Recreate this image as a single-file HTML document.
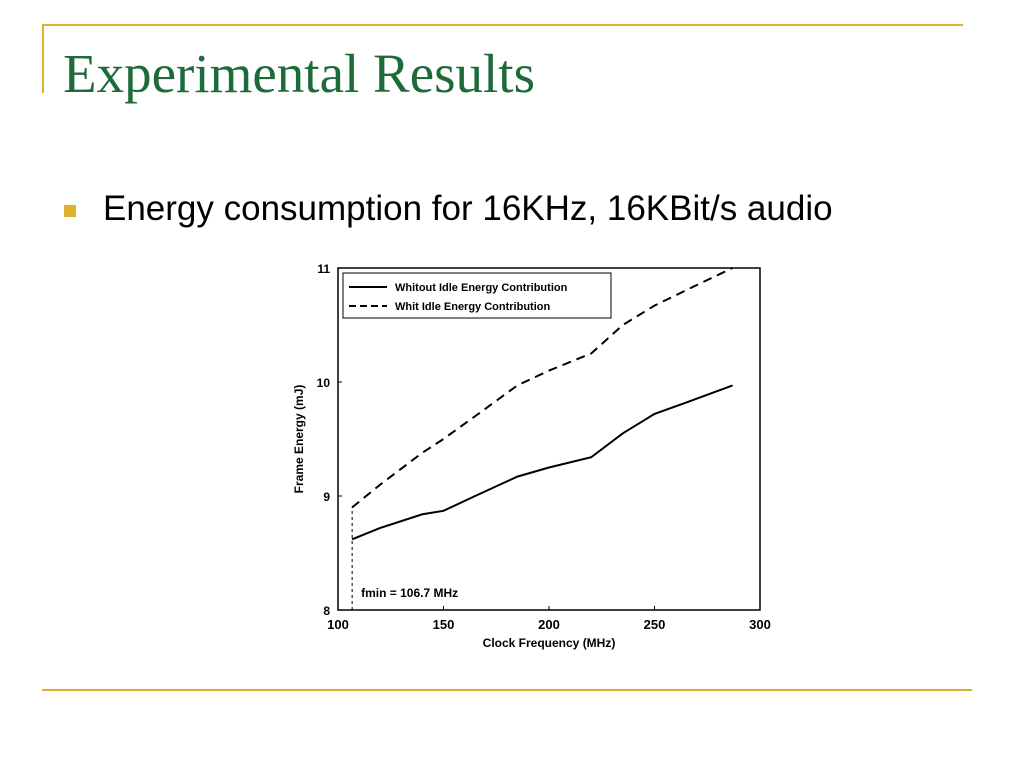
<!DOCTYPE html>
<html><head><meta charset="utf-8"><style>
body{margin:0;width:1024px;height:768px;background:#fff;position:relative;overflow:hidden;font-family:"Liberation Sans",sans-serif}
.abs{position:absolute}
</style></head><body>
<div class="abs" style="left:42px;top:24px;width:921px;height:2px;background:#e0b030"></div>
<div class="abs" style="left:42px;top:24px;width:2px;height:69px;background:#e0b030"></div>
<div class="abs" style="left:63px;top:46px;font-family:'Liberation Serif',serif;font-size:55px;line-height:1;color:#1e6b3a;white-space:nowrap">Experimental Results</div>
<div class="abs" style="left:64px;top:205px;width:12px;height:12px;background:#e0b030"></div>
<div class="abs" style="left:103px;top:191px;font-size:35px;line-height:1;color:#000;white-space:nowrap">Energy consumption for 16KHz, 16KBit/s audio</div>
<div class="abs" style="left:42px;top:689px;width:930px;height:2px;background:#e0b030"></div>
<svg class="abs" style="left:0;top:0" width="1024" height="768">
<g id="chart"></g>
</svg>
<script>
const xTicks=[100,150,200,250,300];
const yTicks=[8,9,10,11];
const freq=[106.7,120,140,150,165,185,200,220,235,250,265,287];
const withoutIdle=[8.62,8.72,8.84,8.87,9.0,9.17,9.25,9.34,9.55,9.72,9.82,9.97];
const freqIdle=[106.7,120,140,150,165,185,200,220,235,250,270,287];
const withIdle=[8.9,9.1,9.38,9.5,9.7,9.97,10.1,10.25,10.5,10.67,10.85,11.0];
const fmin=106.7;
const L=338,R=760,T=268,B=610;
const X=v=>L+(v-100)/200*(R-L);
const Y=v=>B-(v-8)/3*(B-T);
const NS='http://www.w3.org/2000/svg';
const g=document.getElementById('chart');
function mk(t,a){const e=document.createElementNS(NS,t);for(const k in a)e.setAttribute(k,a[k]);g.appendChild(e);return e;}
let e=mk('rect',{x:L,y:T,width:R-L,height:B-T,fill:'none',stroke:'#000','stroke-width':1.5});


xTicks.forEach(v=>{
 let t=mk('line',{x1:X(v),x2:X(v),y1:B,y2:B-4,stroke:'#000'});
 
 
 let l=mk('text',{x:X(v),y:B+19,'text-anchor':'middle','font-size':13,'font-weight':'bold'});l.textContent=v;
 
 
});
yTicks.forEach(v=>{
 let t=mk('line',{x1:L,x2:L+4,y1:Y(v),y2:Y(v),stroke:'#000'});
 
 
 let l=mk('text',{x:L-8,y:Y(v)+5,'text-anchor':'end','font-size':12,'font-weight':'bold'});l.textContent=v;
 
 
});
let xt=mk('text',{x:(L+R)/2,y:B+37,'text-anchor':'middle','font-size':12,'font-weight':'bold'});xt.textContent='Clock Frequency (MHz)';


let yt=mk('text',{x:0,y:0,'text-anchor':'middle','font-size':12,'font-weight':'bold',transform:`translate(303,${(T+B)/2}) rotate(-90)`});yt.textContent='Frame Energy (mJ)';


let fl=mk('line',{x1:X(fmin),x2:X(fmin),y1:B,y2:Y(withIdle[0]),stroke:'#000','stroke-dasharray':'3,3'});


let ft=mk('text',{x:X(fmin)+9,y:B-13,'font-size':12,'font-weight':'bold'});ft.textContent='fmin = 106.7 MHz';


let p1=mk('polyline',{points:freq.map((f,i)=>X(f)+','+Y(withoutIdle[i])).join(' '),fill:'none',stroke:'#000','stroke-width':2});


let p2=mk('polyline',{points:freqIdle.map((f,i)=>X(f)+','+Y(withIdle[i])).join(' '),fill:'none',stroke:'#000','stroke-width':2,'stroke-dasharray':'9,6'});


let lg=mk('rect',{x:343,y:273,width:268,height:45,fill:'#fff',stroke:'#000'});


let l1=mk('line',{x1:349,x2:387,y1:287,y2:287,stroke:'#000','stroke-width':2});


let t1=mk('text',{x:395,y:291,'font-size':11,'font-weight':'bold'});t1.textContent='Whitout Idle Energy Contribution';


let l2=mk('line',{x1:349,x2:387,y1:306,y2:306,stroke:'#000','stroke-width':2,'stroke-dasharray':'7,4'});


let t2=mk('text',{x:395,y:310,'font-size':11,'font-weight':'bold'});t2.textContent='Whit Idle Energy Contribution';


</script>
</body></html>
